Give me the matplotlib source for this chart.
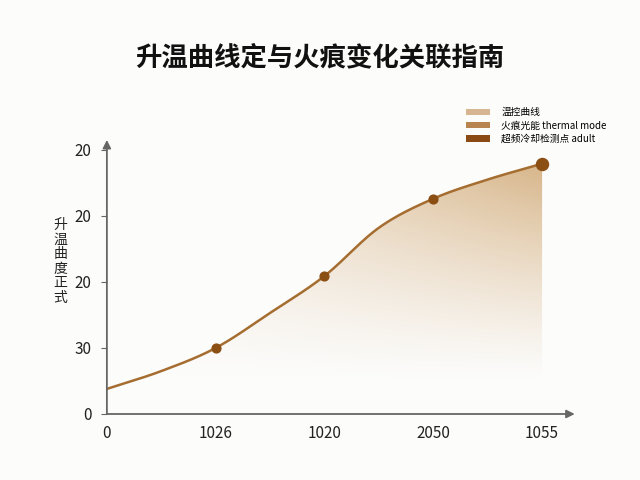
import numpy as np
import matplotlib
matplotlib.use("Agg")
import matplotlib.pyplot as plt
from matplotlib.patches import Patch

plt.rcParams['font.family'] = ['Noto Sans CJK SC', 'DejaVu Sans']

# data
title = "升温曲线定与火痕变化关联指南"
ylabel_txt = "升温曲度正式"
x_ticklabels = ["0", "1026", "1020", "2050", "1055"]
y_ticklabels = ["0", "30", "20", "20", "20"]
curve_x = [0, 0.5, 1, 1.5, 2, 2.5, 3, 3.5, 4]
curve_y = [0.38, 0.65, 1.0, 1.53, 2.09, 2.82, 3.26, 3.55, 3.79]
point_x = [1, 2, 3, 4]
point_y = [1.0, 2.09, 3.26, 3.79]
legend_labels = ["温控曲线", "火痕光能 thermal mode", "超频冷却检测点 adult"]
legend_colors = ["#d6b690", "#b88550", "#8b4a14"]

line_color = "#a56d30"
dot_color = "#8b4f14"
axis_color = "#666666"


def smooth(xs, ys, n=400):
    # catmull-rom style hermite curve, only used to draw the line smoothly
    xs = np.asarray(xs, float)
    ys = np.asarray(ys, float)
    h = np.diff(xs)
    m = np.gradient(ys, xs)
    xx = np.linspace(xs[0], xs[-1], n)
    idx = np.clip(np.searchsorted(xs, xx) - 1, 0, len(h) - 1)
    t = (xx - xs[idx]) / h[idx]
    h00 = 2 * t**3 - 3 * t**2 + 1
    h10 = t**3 - 2 * t**2 + t
    h01 = -2 * t**3 + 3 * t**2
    h11 = t**3 - t**2
    yy = (h00 * ys[idx] + h10 * h[idx] * m[idx]
          + h01 * ys[idx + 1] + h11 * h[idx] * m[idx + 1])
    return xx, yy


fig = plt.figure(figsize=(6.4, 4.8), dpi=100, facecolor="#fcfcfb")
ax = fig.add_axes([0.167, 0.1375, 0.731, 0.571])
ax.set_facecolor("none")

xmax, ymax = 4.3, 4.15
ax.set_xlim(0, xmax)
ax.set_ylim(0, ymax)

sx, sy = smooth(curve_x, curve_y)

# gradient fill under the curve
fill = ax.fill_between(sx, 0, sy, color="none", lw=0)
gx = np.linspace(0, xmax, 300)
gy = np.linspace(0, ymax, 300)
GX, GY = np.meshgrid(gx, gy)
vert = np.clip((GY - 0.5) / 3.3, 0, 1) ** 1.2
horiz = np.clip(0.2 + 0.8 * GX / 4.0, 0, 1)
rgba = np.zeros((300, 300, 4))
rgba[..., 0] = 0.83
rgba[..., 1] = 0.68
rgba[..., 2] = 0.49
rgba[..., 3] = 0.9 * vert * horiz
img = ax.imshow(rgba, extent=[0, xmax, 0, ymax], origin="lower",
                aspect="auto", zorder=1, interpolation="bilinear")
img.set_clip_path(fill.get_paths()[0], transform=ax.transData)

ax.plot(sx, sy, color=line_color, lw=1.8, zorder=3)
ax.scatter(point_x[:-1], point_y[:-1], s=40, color=dot_color, zorder=4)
ax.scatter(point_x[-1:], point_y[-1:], s=75, color=dot_color, zorder=4)

# axes with arrows
for s in ["top", "right", "left", "bottom"]:
    ax.spines[s].set_visible(False)
ax.annotate("", xy=(xmax, 0), xytext=(0, 0),
            arrowprops=dict(arrowstyle="-|>", color=axis_color, lw=1.3,
                            mutation_scale=12, shrinkA=0, shrinkB=0),
            annotation_clip=False)
ax.annotate("", xy=(0, ymax), xytext=(0, 0),
            arrowprops=dict(arrowstyle="-|>", color=axis_color, lw=1.3,
                            mutation_scale=12, shrinkA=0, shrinkB=0),
            annotation_clip=False)

ax.set_xticks(range(len(x_ticklabels)))
ax.set_xticklabels(x_ticklabels, fontsize=11, color="#222222")
ax.set_yticks(range(len(y_ticklabels)))
ax.set_yticklabels(y_ticklabels, fontsize=11, color="#222222")
ax.tick_params(axis="x", length=0, pad=8)
ax.tick_params(axis="y", length=4, color=axis_color, pad=7)

fig.text(0.094, 0.455, "\n".join(ylabel_txt), fontsize=10, ha="center",
         va="center", linespacing=1.05, color="#222222")

fig.text(0.5, 0.88, title, fontsize=19, fontweight="bold", ha="center",
         va="center", color="#111111")

handles = [Patch(facecolor=c, edgecolor="none") for c in legend_colors]
ax.legend(handles, legend_labels, loc="upper left",
          bbox_to_anchor=(0.715, 0.795), bbox_transform=fig.transFigure,
          frameon=False, fontsize=7, handlelength=2.4, handleheight=0.6,
          labelspacing=0.35, handletextpad=1.2)

fig.savefig("out.png", dpi=100, facecolor=fig.get_facecolor())
